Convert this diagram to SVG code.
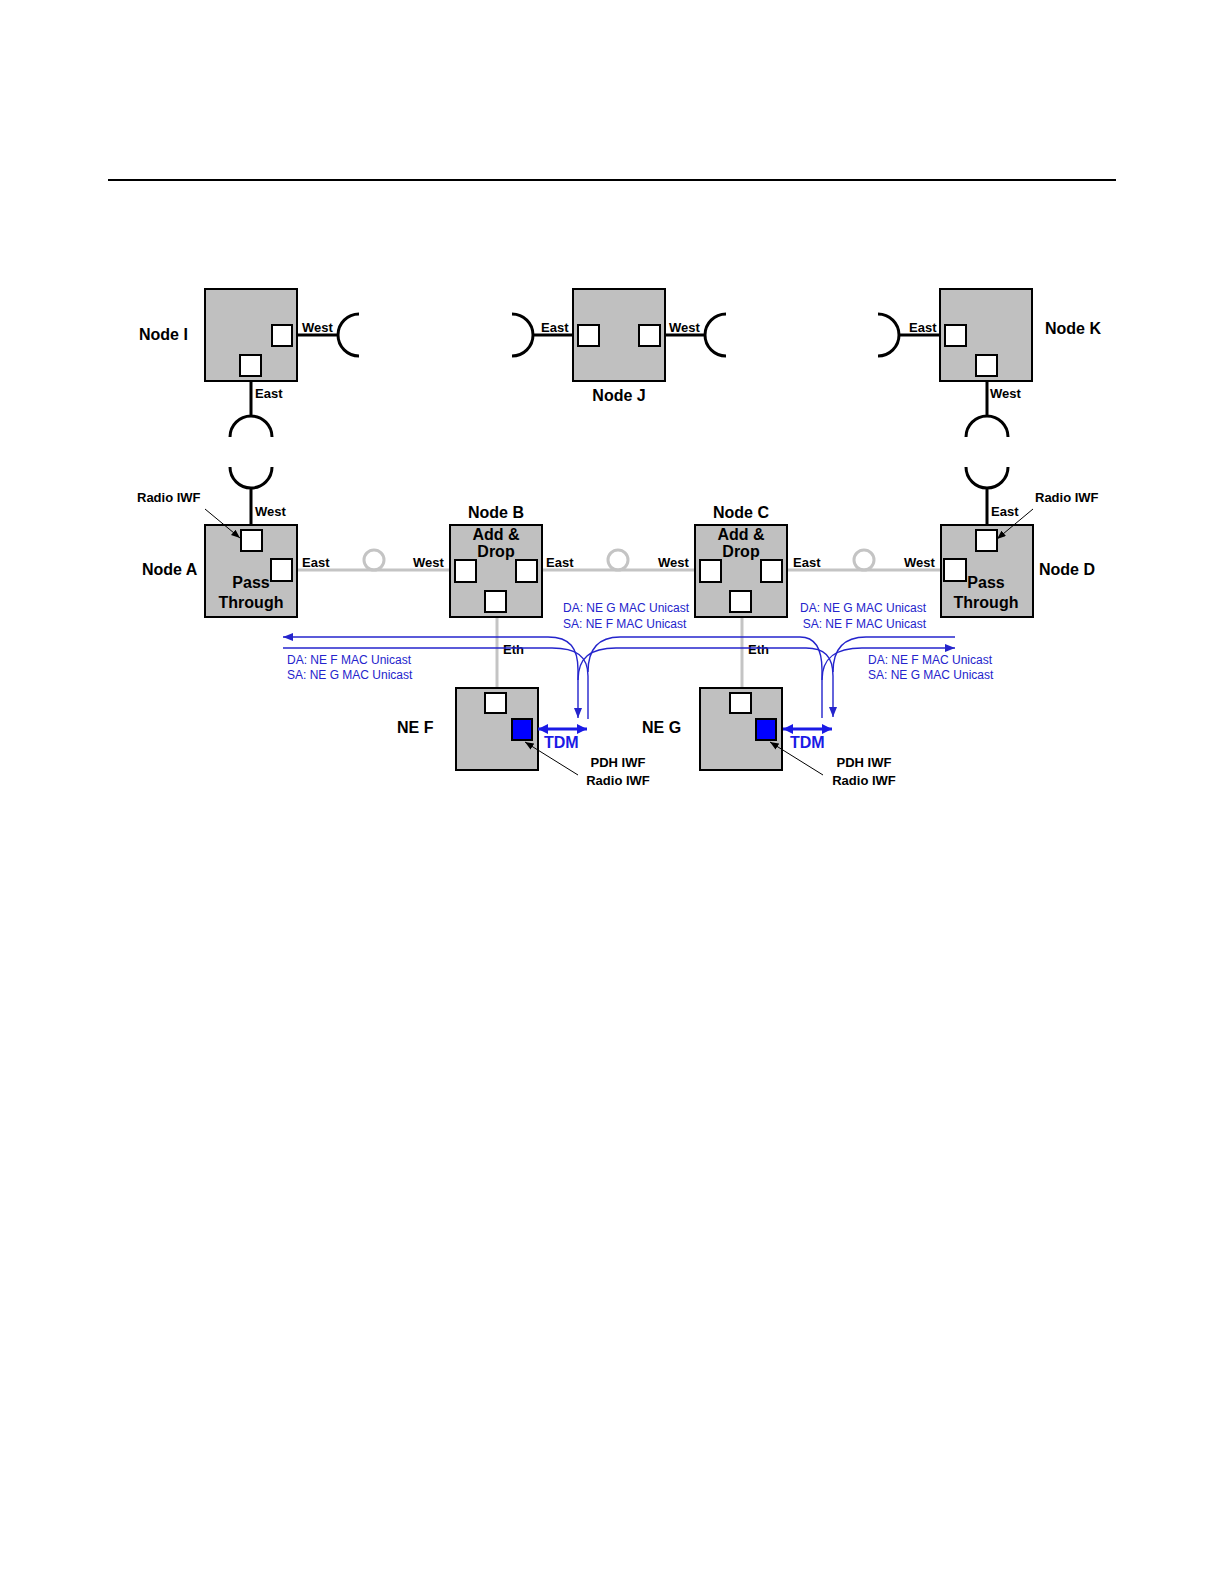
<svg xmlns="http://www.w3.org/2000/svg" width="1224" height="1584" viewBox="0 0 1224 1584">
<style>
.box{fill:#c0c0c0;stroke:#000;stroke-width:2}
.port{fill:#fff;stroke:#000;stroke-width:2}
.bport{fill:#0000ff;stroke:#000;stroke-width:2}
.blk{fill:none;stroke:#000;stroke-width:3}
.gry{fill:none;stroke:#c4c4c4;stroke-width:3}
.blu{fill:none;stroke:#2424cc;stroke-width:1.4}
.tdm{fill:none;stroke:#1a1ae6;stroke-width:3}
.ptr{fill:none;stroke:#000;stroke-width:1}
.nl{font-family:"Liberation Sans",Arial,sans-serif;font-weight:bold;font-size:16px;fill:#000}
.lb{font-family:"Liberation Sans",Arial,sans-serif;font-weight:bold;font-size:13px;fill:#000}
.bt{font-family:"Liberation Sans",Arial,sans-serif;font-size:12px;fill:#2424cc}
.tt{font-family:"Liberation Sans",Arial,sans-serif;font-weight:bold;font-size:16px;fill:#1a1ae6}
.mid{text-anchor:middle}
.end{text-anchor:end}
</style>
<defs>
<marker id="bArr" viewBox="0 0 10 8" refX="10" refY="4" markerWidth="10" markerHeight="8" orient="auto-start-reverse" markerUnits="userSpaceOnUse"><path d="M0,0 L10,4 L0,8 z" fill="#2424cc"/></marker>
<marker id="tArr" viewBox="0 0 10 10" refX="10" refY="5" markerWidth="10" markerHeight="11" orient="auto-start-reverse" markerUnits="userSpaceOnUse"><path d="M0,0 L10,5 L0,10 z" fill="#1a1ae6"/></marker>
<marker id="kArr" viewBox="0 0 10 8" refX="10" refY="4" markerWidth="9" markerHeight="7" orient="auto" markerUnits="userSpaceOnUse"><path d="M0,0 L10,4 L0,8 z" fill="#000"/></marker>
</defs>

<line x1="108" y1="180" x2="1116" y2="180" stroke="#000" stroke-width="2"/>

<g id="nodeI">
  <rect class="box" x="205" y="289" width="92" height="92"/>
  <rect class="port" x="272" y="325" width="20" height="21"/>
  <rect class="port" x="240" y="355" width="21" height="21"/>
  <text class="nl" x="139" y="340">Node I</text>
  <text class="lb" x="302" y="332">West</text>
  <text class="lb" x="255" y="398">East</text>
</g>
<g id="nodeJ">
  <rect class="box" x="573" y="289" width="92" height="92"/>
  <rect class="port" x="578" y="325" width="21" height="21"/>
  <rect class="port" x="639" y="325" width="21" height="21"/>
  <text class="lb" x="541" y="332">East</text>
  <text class="lb" x="669" y="332">West</text>
  <text class="nl mid" x="619" y="401">Node J</text>
</g>
<g id="nodeK">
  <rect class="box" x="940" y="289" width="92" height="92"/>
  <rect class="port" x="945" y="325" width="21" height="21"/>
  <rect class="port" x="976" y="355" width="21" height="21"/>
  <text class="lb" x="909" y="332">East</text>
  <text class="nl" x="1045" y="334">Node K</text>
  <text class="lb" x="990" y="398">West</text>
</g>
<g id="nodeA">
  <rect class="box" x="205" y="525" width="92" height="92"/>
  <rect class="port" x="241" y="530" width="21" height="21"/>
  <rect class="port" x="271" y="559" width="21" height="22"/>
  <text class="lb" x="137" y="502">Radio IWF</text>
  <text class="lb" x="255" y="516">West</text>
  <text class="lb" x="302" y="567">East</text>
  <text class="nl" x="142" y="575">Node A</text>
  <text class="nl mid" x="251" y="588">Pass</text>
  <text class="nl mid" x="251" y="608">Through</text>
</g>
<g id="nodeB">
  <rect class="box" x="450" y="525" width="92" height="92"/>
  <rect class="port" x="455" y="560" width="21" height="22"/>
  <rect class="port" x="516" y="560" width="21" height="22"/>
  <rect class="port" x="485" y="591" width="21" height="21"/>
  <text class="lb" x="413" y="567">West</text>
  <text class="lb" x="546" y="567">East</text>
  <text class="nl mid" x="496" y="518">Node B</text>
  <text class="nl mid" x="496" y="540">Add &amp;</text>
  <text class="nl mid" x="496" y="557">Drop</text>
</g>
<g id="nodeC">
  <rect class="box" x="695" y="525" width="92" height="92"/>
  <rect class="port" x="700" y="560" width="21" height="22"/>
  <rect class="port" x="761" y="560" width="21" height="22"/>
  <rect class="port" x="730" y="591" width="21" height="21"/>
  <text class="lb" x="658" y="567">West</text>
  <text class="lb" x="793" y="567">East</text>
  <text class="nl mid" x="741" y="518">Node C</text>
  <text class="nl mid" x="741" y="540">Add &amp;</text>
  <text class="nl mid" x="741" y="557">Drop</text>
</g>
<g id="nodeD">
  <rect class="box" x="941" y="525" width="92" height="92"/>
  <rect class="port" x="976" y="530" width="21" height="21"/>
  <rect class="port" x="944" y="559" width="22" height="22"/>
  <text class="lb" x="1035" y="502">Radio IWF</text>
  <text class="lb" x="991" y="516">East</text>
  <text class="lb" x="904" y="567">West</text>
  <text class="nl" x="1039" y="575">Node D</text>
  <text class="nl mid" x="986" y="588">Pass</text>
  <text class="nl mid" x="986" y="608">Through</text>
</g>
<g id="neF">
  <rect class="box" x="456" y="688" width="82" height="82"/>
  <rect class="port" x="485" y="693" width="21" height="20"/>
  <rect class="bport" x="512" y="719" width="20" height="21"/>
  <text class="nl" x="397" y="733">NE F</text>
  <text class="lb" x="503" y="654">Eth</text>
  <text class="tt" x="544" y="748">TDM</text>
  <text class="lb mid" x="618" y="767">PDH IWF</text>
  <text class="lb mid" x="618" y="785">Radio IWF</text>
</g>
<g id="neG">
  <rect class="box" x="700" y="688" width="82" height="82"/>
  <rect class="port" x="730" y="693" width="21" height="20"/>
  <rect class="bport" x="756" y="719" width="20" height="21"/>
  <text class="nl" x="642" y="733">NE G</text>
  <text class="lb" x="748" y="654">Eth</text>
  <text class="tt" x="790" y="748">TDM</text>
  <text class="lb mid" x="864" y="767">PDH IWF</text>
  <text class="lb mid" x="864" y="785">Radio IWF</text>
</g>
<g id="flowLabels">
  <text class="bt" x="287" y="664">DA: NE F MAC Unicast</text>
  <text class="bt" x="287" y="679">SA: NE G MAC Unicast</text>
  <text class="bt" x="563" y="612">DA: NE G MAC Unicast</text>
  <text class="bt" x="563" y="628">SA: NE F MAC Unicast</text>
  <text class="bt end" x="926" y="612">DA: NE G MAC Unicast</text>
  <text class="bt end" x="926" y="628">SA: NE F MAC Unicast</text>
  <text class="bt" x="868" y="664">DA: NE F MAC Unicast</text>
  <text class="bt" x="868" y="679">SA: NE G MAC Unicast</text>
</g>

<g id="connectors">
  <path class="blk" d="M297 335 H338 M359 314 A21 21 0 0 0 359 356"/>
  <path class="blk" d="M251 382 V416 M230 437 A21 21 0 0 1 272 437"/>
  <path class="blk" d="M251 524 V488 M230 467 A21 21 0 0 0 272 467"/>
  <path class="blk" d="M572 335 H533 M512 314 A21 21 0 0 1 512 356"/>
  <path class="blk" d="M666 335 H705 M726 314 A21 21 0 0 0 726 356"/>
  <path class="blk" d="M939 335 H899 M878 314 A21 21 0 0 1 878 356"/>
  <path class="blk" d="M987 382 V416 M966 437 A21 21 0 0 1 1008 437"/>
  <path class="blk" d="M987 524 V488 M966 467 A21 21 0 0 0 1008 467"/>
  <path class="gry" d="M298 570 H449"/>
  <circle class="gry" cx="374" cy="560" r="10"/>
  <path class="gry" d="M543 570 H694"/>
  <circle class="gry" cx="618" cy="560" r="10"/>
  <path class="gry" d="M788 570 H940"/>
  <circle class="gry" cx="864" cy="560" r="10"/>
  <path class="gry" d="M497 618 V687"/>
  <path class="gry" d="M742 618 V687"/>
  <path class="blu" d="M548 637 H283" marker-end="url(#bArr)"/>
  <path class="blu" d="M283 648 H552"/>
  <path class="blu" d="M620 637 H800"/>
  <path class="blu" d="M616 648 H806"/>
  <path class="blu" d="M866 637 H955"/>
  <path class="blu" d="M862 648 H955" marker-end="url(#bArr)"/>
  <path class="blu" d="M548 637 C570 637 578 648 578 670 V718" marker-end="url(#bArr)"/>
  <path class="blu" d="M552 648 C576 648 588 656 588 676 V719"/>
  <path class="blu" d="M620 637 C598 637 588 650 588 672"/>
  <path class="blu" d="M616 648 C590 648 578 658 578 680"/>
  <path class="blu" d="M800 637 C814 637 822 648 822 670 V718"/>
  <path class="blu" d="M806 648 C824 648 833 656 833 676 V717" marker-end="url(#bArr)"/>
  <path class="blu" d="M866 637 C843 637 833 650 833 672"/>
  <path class="blu" d="M862 648 C835 648 822 658 822 680"/>
  <path class="tdm" d="M538 729 H587" marker-start="url(#tArr)" marker-end="url(#tArr)"/>
  <path class="tdm" d="M783 729 H832" marker-start="url(#tArr)" marker-end="url(#tArr)"/>
  <path class="ptr" d="M205 509 L240 538" marker-end="url(#kArr)"/>
  <path class="ptr" d="M1033 509 L997 539" marker-end="url(#kArr)"/>
  <path class="ptr" d="M578 775 L525 742" marker-end="url(#kArr)"/>
  <path class="ptr" d="M823 775 L770 742" marker-end="url(#kArr)"/>
</g>
</svg>
